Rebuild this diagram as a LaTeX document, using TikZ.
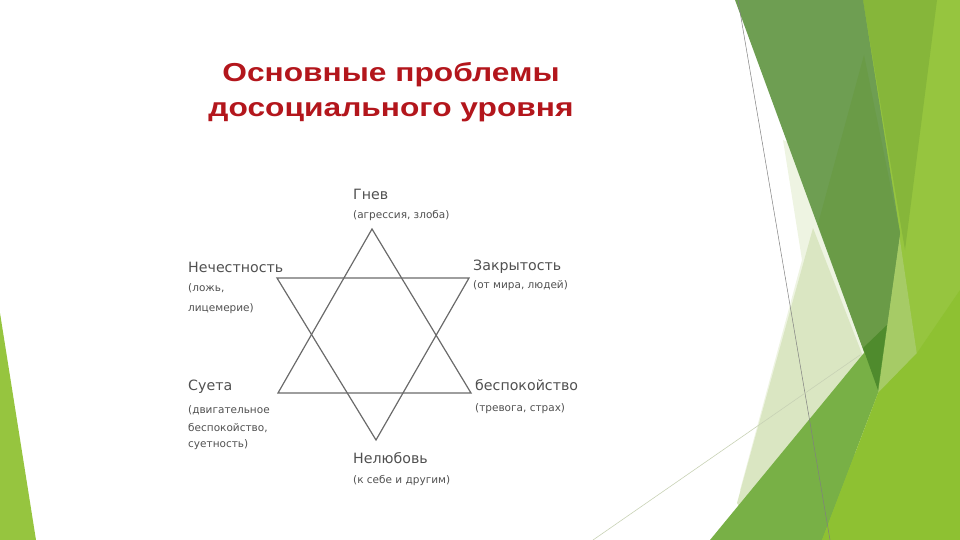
\documentclass[tikz,border=0pt]{standalone}
\usepackage{fontspec}
\setmainfont{Liberation Sans}
\newfontfamily\notefont{DejaVu Sans}
\definecolor{titlered}{HTML}{B3161C}
\definecolor{inkgray}{HTML}{505050}
\definecolor{stargray}{HTML}{6A6A6A}
\definecolor{leafdark}{HTML}{6E9E52}
\definecolor{leafdeep}{HTML}{6A9B47}
\definecolor{leafmid}{HTML}{86B63A}
\definecolor{leafbright}{HTML}{96C53F}
\definecolor{leaflime}{HTML}{8EC132}
\definecolor{leafgrass}{HTML}{78B046}
\definecolor{leafshade}{HTML}{4F8B2D}
\definecolor{leafstrip}{HTML}{A6CB66}
\definecolor{leafpale}{HTML}{EEF4E2}
\definecolor{leafsoft}{HTML}{DAE6C2}
\tikzset{
  heading/.style={anchor=base west, inner sep=0pt, text=inkgray,
    font=\notefont\fontsize{14.2}{15}\selectfont},
  remark/.style={anchor=base west, inner sep=0pt, text=inkgray,
    font=\notefont\fontsize{10.5}{11}\selectfont},
  starline/.style={draw=stargray, line width=1.2pt, line join=miter},
}
\begin{document}
\begin{tikzpicture}[x=1pt,y=-1pt]
  \useasboundingbox (0,0) rectangle (960,540);

  % green facets on the right
  \fill[leafbright] (860,0) -- (960,0) -- (960,540) -- (800,540) -- (880,300) -- cycle;
  \fill[leafmid] (863,0) -- (937,0) -- (905,250) -- cycle;
  \fill[leafstrip] (897,220) -- (917,355) -- (877,430) -- (872,300) -- cycle;
  \fill[leafpale] (783,140) -- (802,260) -- (740,490) -- (790,540) -- (880,420) -- (850,170) -- cycle;
  \fill[leafsoft] (813,228) -- (880,400) -- (760,540) -- (737,503) -- cycle;
  \fill[leafdark] (735,0) -- (863,0) -- (900,233) -- (878,390) -- cycle;
  \fill[leafdeep] (864,55) -- (900,233) -- (878,390) -- (818,224) -- cycle;
  \fill[leafgrass] (710,540) -- (887,325) -- (878,393) -- (822,540) -- cycle;
  \fill[leafshade] (863,348) -- (887,325) -- (878,390) -- cycle;
  \fill[leaflime] (822,540) -- (878,393) -- (917,353) -- (960,290) -- (960,540) -- cycle;
  \draw[gray, line width=0.5pt] (738,0) -- (830,540);
  \draw[leafsoft!80!gray, line width=0.6pt] (593,540) -- (860,355);

  % green sliver on the left
  \fill[leafbright] (0,313) -- (0,540) -- (36,540) -- cycle;

  % title
  \node[text=titlered, align=center, xscale=1.22, transform shape,
    font=\bfseries\fontsize{26}{35}\selectfont]
    (title) at (391,92) {Основные проблемы\\досоциального уровня};

  % star of two triangles
  \coordinate (up0) at (372,229);
  \coordinate (up1) at (471,393);
  \coordinate (up2) at (278,393);
  \coordinate (dn0) at (277,278);
  \coordinate (dn1) at (469,278);
  \coordinate (dn2) at (376,440);
  \draw[starline] (up0) -- (up1) -- (up2) -- cycle;
  \draw[starline] (dn0) -- (dn1) -- (dn2) -- cycle;

  % labels
  \node[heading] (gnev) at (353,200) {Гнев};
  \node[remark] (gnevnote) at (353,218) {(агрессия, злоба)};
  \node[heading] (nechest) at (188,272) {Нечестность};
  \node[remark] (nechestnote) at (188,291) {(ложь,};
  \node[remark] (nechestnote2) at (188,311) {лицемерие)};
  \node[heading] (zakryt) at (473,270) {Закрытость};
  \node[remark] (zakrytnote) at (473,288) {(от мира, людей)};
  \node[heading] (sueta) at (188,390) {Суета};
  \node[remark] (suetanote) at (188,413) {(двигательное};
  \node[remark] (suetanote2) at (188,431) {беспокойство,};
  \node[remark] (suetanote3) at (188,447) {суетность)};
  \node[heading] (bespok) at (475,390) {беспокойство};
  \node[remark] (bespoknote) at (475,411) {(тревога, страх)};
  \node[heading] (nelyub) at (353,463) {Нелюбовь};
  \node[remark] (nelyubnote) at (353,483) {(к себе и другим)};
\end{tikzpicture}
\end{document}
